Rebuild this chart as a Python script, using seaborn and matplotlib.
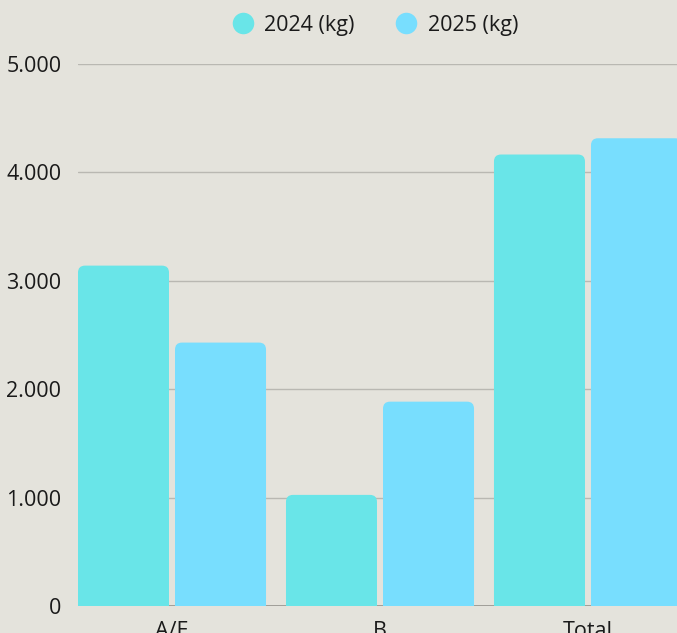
import matplotlib
matplotlib.use('Agg')
import matplotlib.pyplot as plt
import seaborn as sns
import pandas as pd
from matplotlib.patches import FancyBboxPatch
from matplotlib.lines import Line2D
from matplotlib.ticker import FuncFormatter

categories = ['A/E', 'B', 'Total']
series_names = ['2024 (kg)', '2025 (kg)']
values_2024 = [3140, 1025, 4165]
values_2025 = [2430, 1885, 4315]
y_ticks = [0, 1000, 2000, 3000, 4000, 5000]

colors = ['#69e5e8', '#78defe']
bg = '#e4e3dc'

df = pd.DataFrame({
    'category': categories * 2,
    'series': [series_names[0]] * 3 + [series_names[1]] * 3,
    'value': values_2024 + values_2025,
})

sns.set_theme(style='white')
plt.rcParams['font.family'] = ['Open Sans', 'DejaVu Sans']

W, H = 677, 633
fig = plt.figure(figsize=(W / 100, H / 100), dpi=100, facecolor=bg)
ax = fig.add_axes([78 / W, 27 / H, 1 - 78 / W, (606 - 64) / H])
ax.set_facecolor(bg)

sns.barplot(data=df, x='category', y='value', hue='series', palette=colors,
            width=0.933, gap=0.062, legend=False, ax=ax, saturation=1)

ax.set_xlim(-0.452, 2.428)
ax.set_ylim(0, 5000)

# round the top corners of each bar
px_x = 208.0           # pixels per category
px_y = 108.4 / 1000    # pixels per kg
rx = 7 / px_x
ry = 7 / px_y
for p in list(ax.patches):
    x0, w, h = p.get_x(), p.get_width(), p.get_height()
    fc = p.get_facecolor()
    p.set_linewidth(0)
    p.set_height(max(h - ry, 0))
    rp = FancyBboxPatch((x0, 0), w, h, boxstyle=f'round,pad=0,rounding_size={rx}',
                        mutation_aspect=ry / rx, facecolor=fc, linewidth=0, zorder=p.get_zorder())
    ax.add_patch(rp)

ax.set_yticks(y_ticks)
ax.yaxis.set_major_formatter(FuncFormatter(lambda v, _: f'{int(v):,}'.replace(',', '.')))
ax.grid(axis='y', color='#b9b8b2', linewidth=1)
ax.grid(axis='x', visible=False)
ax.set_axisbelow(True)
ax.axhline(0, color='#9a9994', linewidth=2, zorder=0.6)

for s in ax.spines.values():
    s.set_visible(False)
ax.tick_params(axis='both', length=0, labelsize=15.5, colors='#1a1a1a')
ax.tick_params(axis='y', pad=12)
ax.tick_params(axis='x', pad=11)
ax.set_xlabel('')
ax.set_ylabel('')

handles = [Line2D([], [], marker='o', linestyle='', markersize=15.5,
                  markerfacecolor=c, markeredgewidth=0) for c in colors]
fig.legend(handles, series_names, loc='center', bbox_to_anchor=(375 / W, 1 - 25 / H),
           ncol=2, frameon=False, fontsize=15.5, handlelength=1.0,
           handletextpad=0.5, columnspacing=1.9, labelcolor='#1a1a1a')

fig.savefig('out.png', dpi=100, facecolor=bg)
